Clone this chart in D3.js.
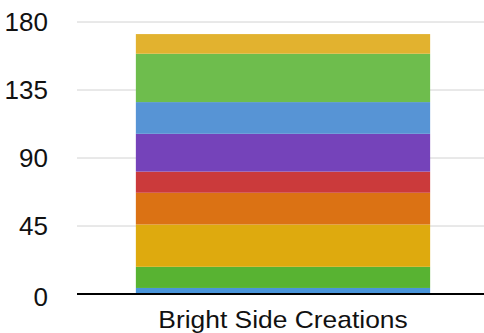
<!DOCTYPE html>
<html>
<head>
<meta charset="utf-8">
<script src="https://cdn.jsdelivr.net/npm/d3@7"></script>
<style>
  html, body { margin: 0; padding: 0; background: #fff; }
  svg { display: block; }
  text { font-family: "Liberation Sans", Arial, Helvetica, sans-serif; fill: #111; }
</style>
</head>
<body>
<svg id="chart" width="484" height="333"></svg>
<script>
// One stacked column, segments listed from the bottom up
const categories = ["Bright Side Creations"];
const segmentValues = [4, 14, 28, 21, 14, 25, 21, 32, 13];
const segmentColors = ["#4A95DA", "#58B332", "#DEAA0E", "#DB7214", "#CB3A3B",
                       "#7543BA", "#5794D5", "#6EBD4D", "#E2B22F"];
const yTicks = [0, 45, 90, 135, 180];

const width = 484, height = 333;
const plotLeft = 77, plotRight = 489, yZero = 294, yTop = 22;

const svg = d3.select("#chart");

const x = d3.scaleBand().domain(categories).range([plotLeft, plotRight])
  .paddingInner(0).paddingOuter(0.2);
const y = d3.scaleLinear().domain([0, 180]).range([yZero, yTop]);

// Horizontal gridlines
svg.append("g")
  .selectAll("line")
  .data(yTicks.filter(d => d !== 0))
  .join("line")
  .attr("x1", plotLeft).attr("x2", width)
  .attr("y1", d => y(d)).attr("y2", d => y(d))
  .attr("stroke", "#d2d2d2").attr("stroke-width", 1);

// Stacked segments
let cum = 0;
const stacked = segmentValues.map((v, i) => {
  const s = { y0: cum, y1: cum + v, color: segmentColors[i] };
  cum += v;
  return s;
});

svg.append("g")
  .selectAll("rect")
  .data(stacked)
  .join("rect")
  .attr("x", x(categories[0]))
  .attr("width", x.bandwidth())
  .attr("y", d => y(d.y1))
  .attr("height", d => y(d.y0) - y(d.y1))
  .attr("fill", d => d.color);

// Baseline
svg.append("line")
  .attr("x1", plotLeft).attr("x2", width)
  .attr("y1", y(0)).attr("y2", y(0))
  .attr("stroke", "#000").attr("stroke-width", 2);

// Y tick labels
const yAxisX = 48;
svg.append("g")
  .selectAll("text")
  .data(yTicks)
  .join("text")
  .attr("x", yAxisX)
  .attr("y", d => y(d) + (d === 0 ? 3 : 0))
  .attr("text-anchor", "end")
  .attr("dominant-baseline", "central")
  .attr("font-size", 26)
  .text(d => d);

// Category label, slightly widened
svg.append("g")
  .selectAll("text")
  .data(categories)
  .join("text")
  .attr("transform", d => `translate(${x(d) + x.bandwidth() / 2},328) scale(1.1,1)`)
  .attr("text-anchor", "middle")
  .attr("font-size", 24)
  .text(d => d);
</script>
</body>
</html>
